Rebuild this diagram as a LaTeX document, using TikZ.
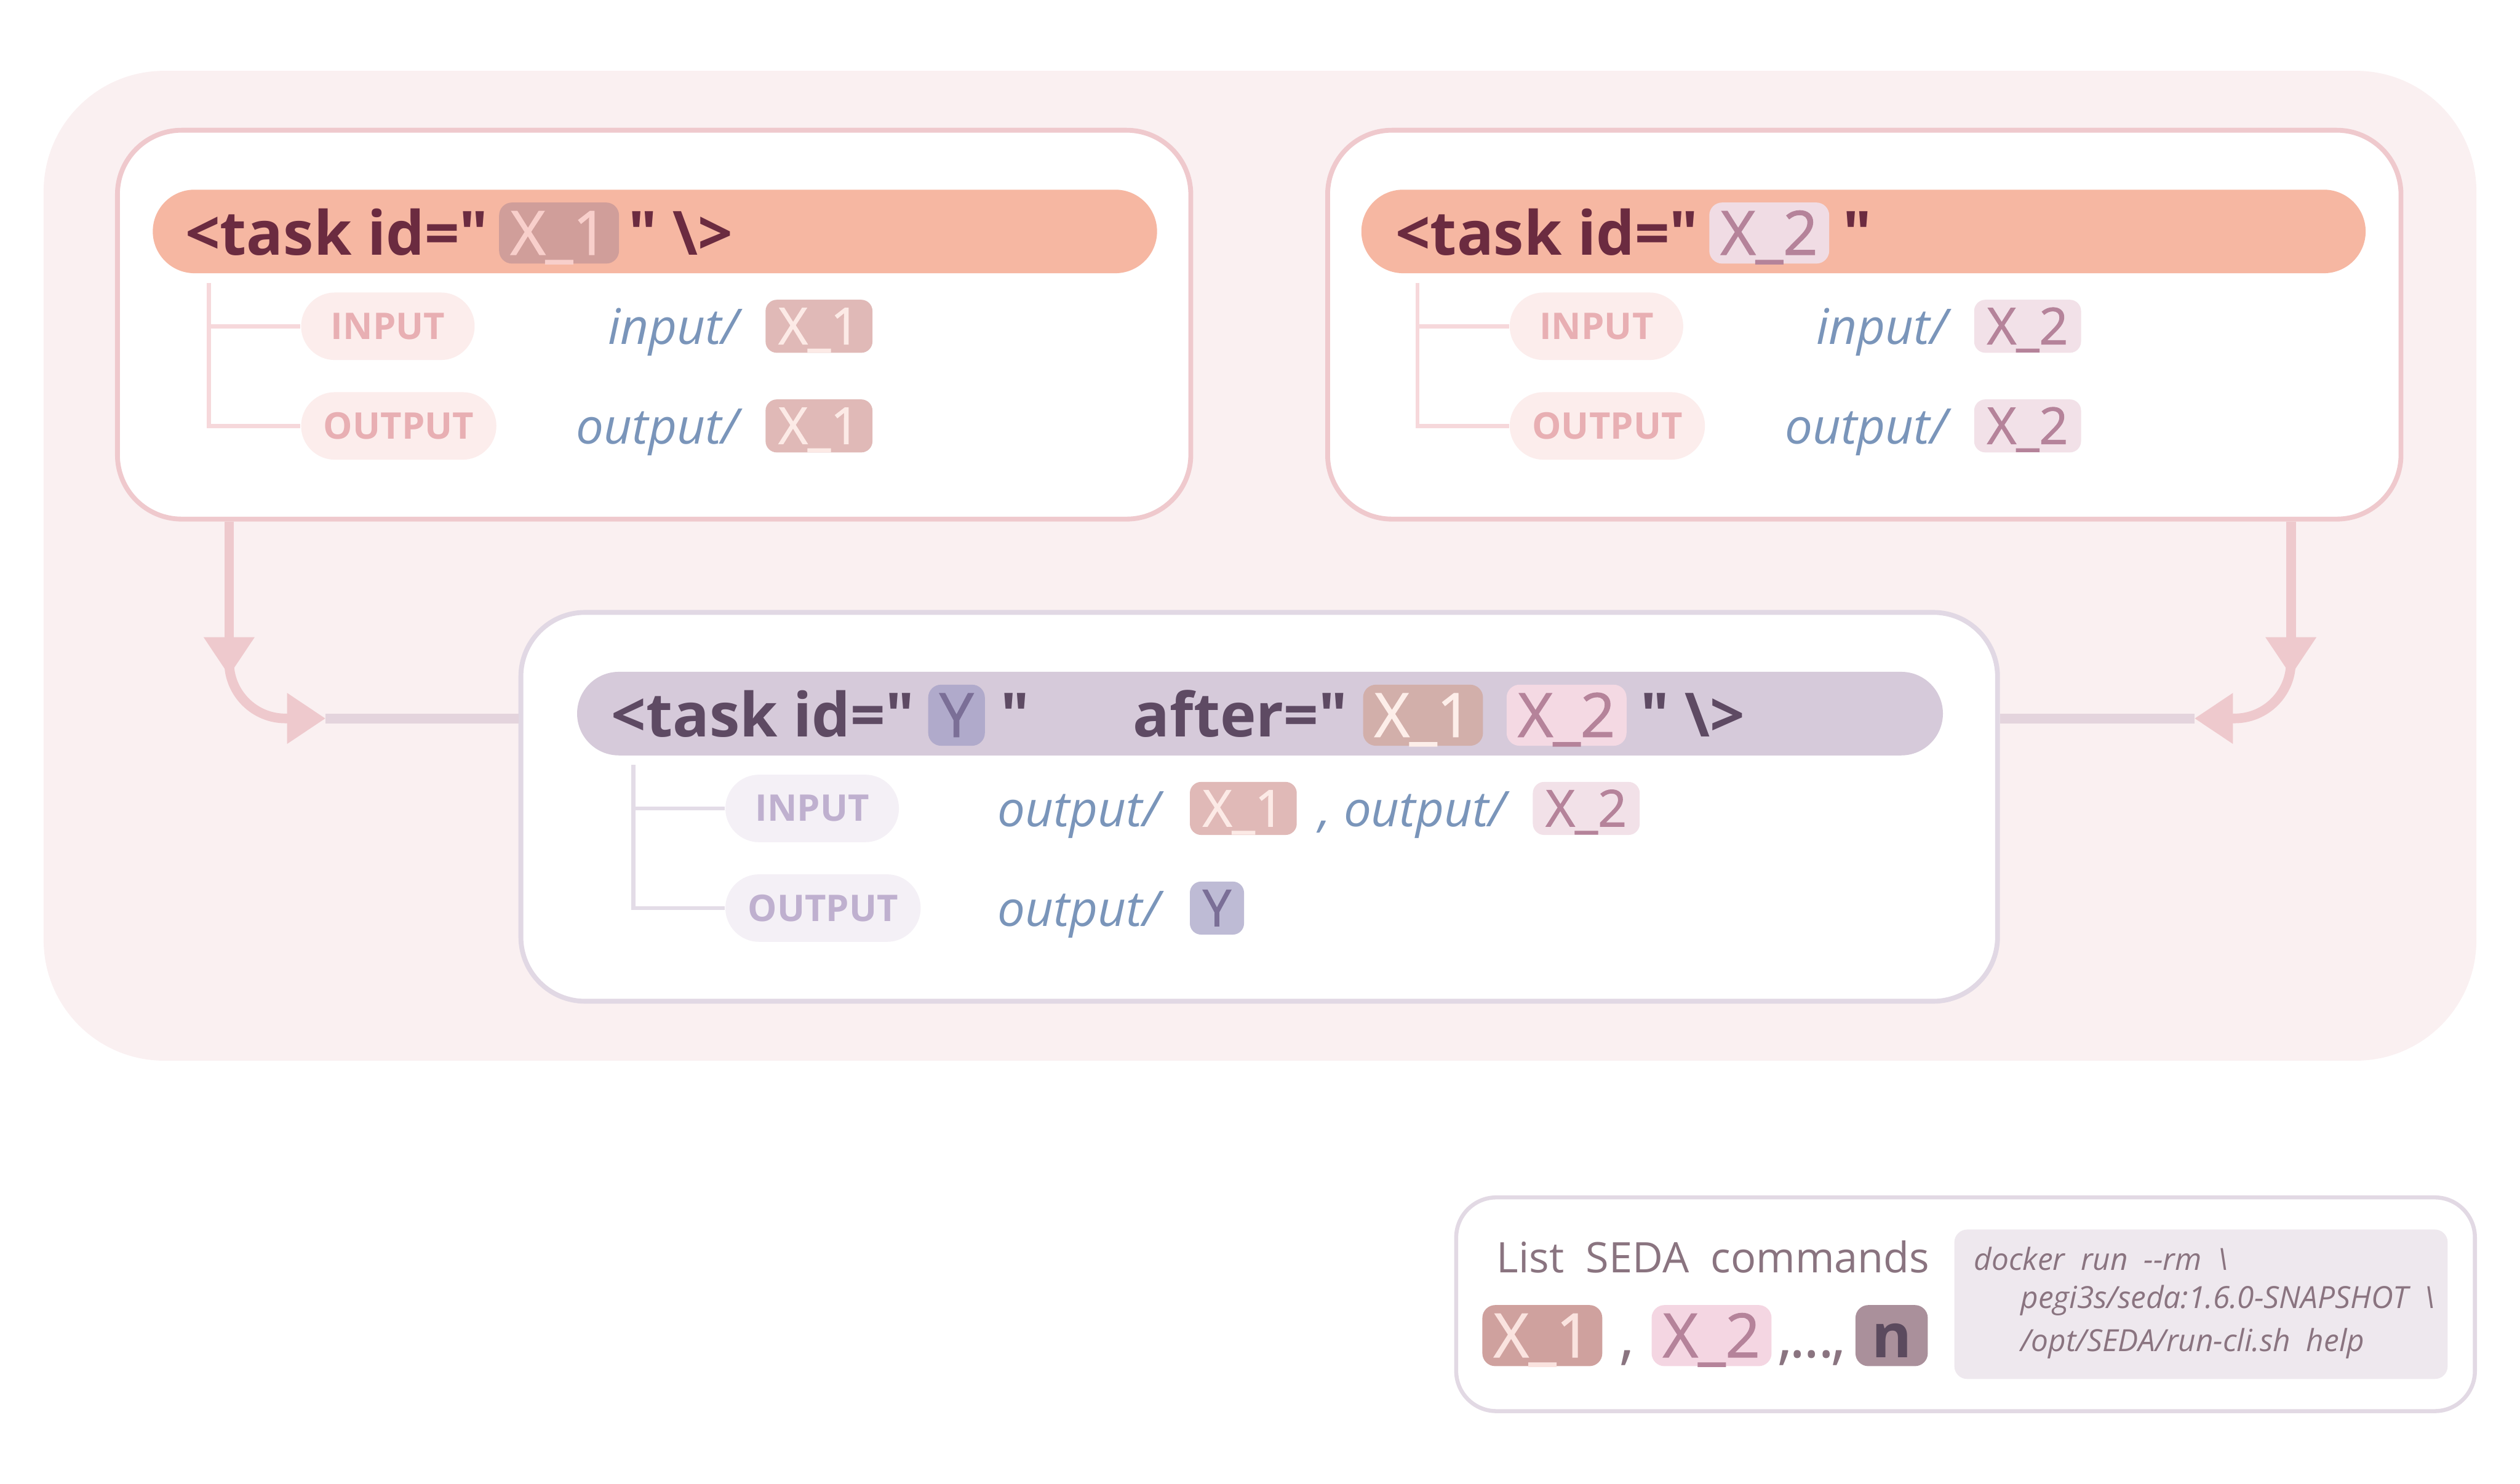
\documentclass[tikz,border=0pt]{standalone}
\usepackage{fontspec}
\setmainfont{Open Sans}
\usetikzlibrary{positioning, arrows.meta, calc}
\definecolor{bgpink}{HTML}{FAF0F1}
\definecolor{pinkline}{HTML}{EFC9CD}
\definecolor{salmon}{HTML}{F6B7A2}
\definecolor{maroon}{HTML}{6B2B40}
\definecolor{hdxone}{HTML}{D09E9A}
\definecolor{hdxonetext}{HTML}{F8CFCB}
\definecolor{hdxtwo}{HTML}{F0DCE4}
\definecolor{xtwotext}{HTML}{B5839A}
\definecolor{pinktree}{HTML}{F6D8DB}
\definecolor{pillpink}{HTML}{FCEDEC}
\definecolor{pillpinktext}{HTML}{E8AFB3}
\definecolor{pathblue}{HTML}{7A95BA}
\definecolor{rowxone}{HTML}{E0B9B7}
\definecolor{rowxonetext}{HTML}{FCEAE6}
\definecolor{rowxtwo}{HTML}{F2E1E8}
\definecolor{lavline}{HTML}{E1D8E4}
\definecolor{lavhead}{HTML}{D6CADA}
\definecolor{lavtext}{HTML}{5E4A63}
\definecolor{ychip}{HTML}{B0AACB}
\definecolor{ytext}{HTML}{7B6F97}
\definecolor{midxone}{HTML}{D2AFAA}
\definecolor{midxonetext}{HTML}{FDEEE9}
\definecolor{midxtwo}{HTML}{F4D9E3}
\definecolor{pilllav}{HTML}{F4F0F6}
\definecolor{pilllavtext}{HTML}{BFB0CF}
\definecolor{lavtree}{HTML}{E3DCE7}
\definecolor{ysmall}{HTML}{BEBBD5}
\definecolor{flowpink}{HTML}{EEC9CD}
\definecolor{flowmix}{HTML}{E4D4DD}
\definecolor{legline}{HTML}{E2D9E4}
\definecolor{legtext}{HTML}{8A7480}
\definecolor{legxone}{HTML}{CFA19E}
\definecolor{legxonetext}{HTML}{FAE3DF}
\definecolor{legxtwo}{HTML}{F4D6E2}
\definecolor{nchip}{HTML}{AA909B}
\definecolor{ntext}{HTML}{5B4A5E}
\definecolor{codebg}{HTML}{EEE8EE}

\begin{document}
\begin{tikzpicture}[
    x=0.02cm, y=-0.02cm,
    taskbox/.style={draw, line width=0.06cm, fill=white, rounded corners=0.8cm, minimum width=13.36cm, minimum height=4.84cm},
    header/.style={rounded corners=0.52cm, minimum height=1.04cm},
    hdtext/.style={font=\fontsize{21.6}{24}\selectfont\bfseries, inner sep=0, text height=0.6cm, text depth=0.06cm},
    hdchip/.style={font=\fontsize{21.6}{24}\selectfont\addfontfeatures{FakeBold=1.2}, rounded corners=0.16cm, inner xsep=0.14cm, inner ysep=0, minimum height=0.76cm, text height=0.6cm, text depth=0.06cm},
    pill/.style={rounded corners=0.42cm, minimum height=0.84cm, minimum width=2.16cm, inner xsep=0.28cm, font=\fontsize{13}{15}\selectfont\bfseries, anchor=west},
    pathtext/.style={font=\fontsize{17.4}{20}\selectfont\itshape, text=pathblue, inner sep=0, text height=0.5cm, text depth=0.05cm},
    rowchip/.style={font=\fontsize{18}{20}\selectfont\addfontfeatures{FakeBold=1.2}, rounded corners=0.14cm, inner xsep=0.16cm, inner ysep=0, minimum height=0.66cm, text height=0.5cm, text depth=0.05cm},
    tree/.style={line width=0.05cm},
    flow/.style={line width=0.12cm, draw=flowpink},
    flowtip/.style={-{Triangle[width=0.6cm, length=0.48cm]}},
    legsep/.style={font=\fontsize{21.6}{24}\selectfont, text=legtext, inner sep=0, text height=0.6cm, text depth=0.06cm},
    codeline/.style={font=\fontsize{10.8}{12}\selectfont\itshape, text=legtext, inner sep=0, anchor=west}
]
\useasboundingbox (0,0) rectangle (1568,923);

% ---------- Background ----------
\node[fill=bgpink, rounded corners=1.5cm, minimum width=30.28cm, minimum height=12.32cm] (bg) at (784,352) {};

% ---------- Task boxes ----------
\node[taskbox, draw=pinkline] (tl) at (407,202) {};
\node[taskbox, draw=pinkline] (tr) at (1160,202) {};
\node[taskbox, draw=lavline, minimum width=18.38cm] (mid) at (783.5,502) {};

% ---------- Task X_1 ----------
\node[header, fill=salmon, minimum width=12.5cm] (tlhead) at (407.5,144) {};
\node[hdtext, text=maroon, anchor=west] (tltask) at (115,145) {<task id=\textquotedbl};
\node[hdchip, fill=hdxone, text=hdxonetext, right=0.12cm of tltask] (tlid) {X\_1};
\node[hdtext, text=maroon, right=0.1cm of tlid] (tlend) {\textquotedbl\ \textbackslash>};

\node[pill, fill=pillpink, text=pillpinktext] (tlin) at (187,203) {INPUT};
\node[pill, fill=pillpink, text=pillpinktext] (tlout) at (187,265) {OUTPUT};
\coordinate (tlroot) at (130,176);
\draw[tree, draw=pinktree] (tlroot) |- (tlin.west);
\draw[tree, draw=pinktree] (tlroot) |- (tlout.west);

\node[rowchip, fill=rowxone, text=rowxonetext, anchor=west] (tlinid) at (476,203) {X\_1};
\node[pathtext, left=0.32cm of tlinid] (tlinpath) {input/};
\node[rowchip, fill=rowxone, text=rowxonetext, anchor=west] (tloutid) at (476,265) {X\_1};
\node[pathtext, left=0.32cm of tloutid] (tloutpath) {output/};

% ---------- Task X_2 ----------
\node[header, fill=salmon, minimum width=12.5cm] (trhead) at (1159.5,144) {};
\node[hdtext, text=maroon, anchor=west] (trtask) at (868,145) {<task id=\textquotedbl};
\node[hdchip, fill=hdxtwo, text=xtwotext, right=0.12cm of trtask] (trid) {X\_2};
\node[hdtext, text=maroon, right=0.16cm of trid] (trend) {\textquotedbl};

\node[pill, fill=pillpink, text=pillpinktext] (trin) at (939,203) {INPUT};
\node[pill, fill=pillpink, text=pillpinktext] (trout) at (939,265) {OUTPUT};
\coordinate (trroot) at (882,176);
\draw[tree, draw=pinktree] (trroot) |- (trin.west);
\draw[tree, draw=pinktree] (trroot) |- (trout.west);

\node[rowchip, fill=rowxtwo, text=xtwotext, anchor=west] (trinid) at (1228,203) {X\_2};
\node[pathtext, left=0.32cm of trinid] (trinpath) {input/};
\node[rowchip, fill=rowxtwo, text=xtwotext, anchor=west] (troutid) at (1228,265) {X\_2};
\node[pathtext, left=0.32cm of troutid] (troutpath) {output/};

% ---------- Task Y ----------
\node[header, fill=lavhead, minimum width=17cm] (midhead) at (784,444) {};
\node[hdtext, text=lavtext, anchor=west] (midtask) at (380,445) {<task id=\textquotedbl};
\node[hdchip, fill=ychip, text=ytext, right=0.16cm of midtask] (midid) {Y};
\node[hdtext, text=lavtext, right=0.18cm of midid] (midq) {\textquotedbl};
\node[hdtext, text=lavtext, right=1.28cm of midq] (midafter) {after=\textquotedbl};
\node[hdchip, fill=midxone, text=midxonetext, right=0.18cm of midafter] (midx1) {X\_1};
\node[hdchip, fill=midxtwo, text=xtwotext, right=0.28cm of midx1] (midx2) {X\_2};
\node[hdtext, text=lavtext, right=0.16cm of midx2] (midend) {\textquotedbl\ \textbackslash>};

\node[pill, fill=pilllav, text=pilllavtext] (midin) at (451,503) {INPUT};
\node[pill, fill=pilllav, text=pilllavtext] (midout) at (451,565) {OUTPUT};
\coordinate (midroot) at (394,476);
\draw[tree, draw=lavtree] (midroot) |- (midin.west);
\draw[tree, draw=lavtree] (midroot) |- (midout.west);

\node[rowchip, fill=rowxone, text=rowxonetext, anchor=west] (midinx1) at (740,503) {X\_1};
\node[pathtext, left=0.36cm of midinx1] (midinpath) {output/};
\node[pathtext, right=0.26cm of midinx1] (midinpath2) {, output/};
\node[rowchip, fill=rowxtwo, text=xtwotext, right=0.32cm of midinpath2] (midinx2) {X\_2};
\node[rowchip, fill=ysmall, text=ytext, anchor=west] (midoutid) at (740,565) {Y};
\node[pathtext, left=0.36cm of midoutid] (midoutpath) {output/};

% ---------- Connectors ----------
\coordinate (ldrop) at ([xshift=1.42cm]tl.south west);
\coordinate (rdrop) at ([xshift=-1.4cm]tr.south east);
\coordinate (ljoin) at (mid.west |- 0,447);
\coordinate (rjoin) at (mid.east |- 0,447);

\draw[flow, flowtip] (ldrop) -- ++(0,96);
\draw[flow, flowtip, rounded corners=0.7cm] ([yshift=-1.6cm]ldrop) |- ([xshift=-2.4cm]ljoin);
\draw[flow, draw=flowmix] ([xshift=-2.4cm]ljoin) -- (ljoin);

\draw[flow, flowtip] (rdrop) -- ++(0,96);
\draw[flow, flowtip, rounded corners=0.7cm] ([yshift=-1.6cm]rdrop) |- ([xshift=2.42cm]rjoin);
\draw[flow, draw=flowmix] ([xshift=2.42cm]rjoin) -- (rjoin);

% ---------- Legend ----------
\node[draw=legline, line width=0.05cm, fill=white, rounded corners=0.5cm, minimum width=12.68cm, minimum height=2.66cm] (legend) at (1223,811.5) {};
\node[anchor=west, text=legtext, font=\fontsize{14.9}{18}\selectfont, inner sep=0] (legtitle) at (931,782) {List\ \ SEDA\ \ commands};

\node[hdchip, fill=legxone, text=legxonetext, anchor=west] (legx1) at (922,831) {X\_1};
\node[legsep, right=0.2cm of legx1] (legc1) {,};
\node[hdchip, fill=legxtwo, text=xtwotext, right=0.2cm of legc1] (legx2) {X\_2};
\node[legsep, right=0.06cm of legx2] (legdots) {,\kern-0.05em.\kern-0.03em.\kern-0.03em.\kern-0.05em,};
\node[hdchip, fill=nchip, text=ntext, font=\fontsize{21.6}{24}\selectfont\bfseries, minimum width=0.9cm, right=0.1cm of legdots] (legn) {n};

\node[fill=codebg, rounded corners=0.16cm, minimum width=6.14cm, minimum height=1.86cm] (code) at (1369.5,811.5) {};
\node[codeline] (code1) at (1228,783) {docker\ \ run\ \ -{}-rm\ \ \textbackslash};
\node[codeline] (code2) at (1257,809) {pegi3s/seda:1.6.0-SNAPSHOT\ \ \textbackslash};
\node[codeline] (code3) at (1257,836) {/opt/SEDA/run-cli.sh\ \ help};

\end{tikzpicture}
\end{document}
